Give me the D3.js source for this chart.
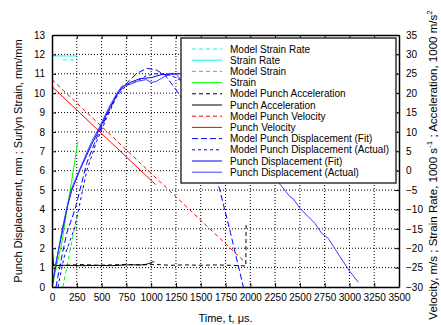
<!DOCTYPE html>
<html>
<head>
<meta charset="utf-8">
<script src="https://cdn.jsdelivr.net/npm/d3@7"></script>
<style>
  body { margin: 0; background: #fff; }
  text { font-family: "Liberation Sans", Arial, sans-serif; }
</style>
</head>
<body>
<svg id="chart" width="441" height="325"></svg>
<script>
// ticks
const xTicks = d3.range(0, 3501, 250);
const leftTicks = d3.range(0, 14, 1);
const rightTicks = d3.range(-30, 36, 5);

// right axis series: [time us, value]
const modelStrainRate = [[110, 28.6], [250, 28.6]];
const strainRate = [[0, 29.6], [250, 29.6]];
const modelAccel = [[0, -24.3], [150, -24.4], [300, -24.2], [450, -24.4], [600, -24.3], [750, -24.2], [900, -24.3],
  [1050, -24.2], [1200, -24.4], [1350, -24.3], [1500, -24.4], [1650, -24.3], [1800, -24.4], [1900, -24.5],
  [1955, -24.6], [1958, -13.2]];
const accel = [[0, -18.5], [15, -24.5], [150, -24.4], [300, -24.5], [450, -24.4], [600, -24.5], [750, -24.3],
  [900, -24.3], [960, -24.1], [1000, -23.7], [1030, -23.4]];
const modelVelocity = [[0, 23.5], [1960, -23.9]];
const velocity = [[0, 21.7], [1045, -3.6]];

// left axis series: [time us, value]
const modelStrain = [[110, 0], [252, 3.7]];
const strain = [[5, 0], [30, 0.7], [98, 2.25], [148, 3.9], [232, 6.55], [258, 7.5]];
const modelDispFit = [[40, 0], [100, 1.6], [150, 2.8], [232, 4.0], [350, 6.38], [450, 7.7], [550, 8.8], [650, 9.9],
  [750, 10.5], [850, 11.0], [955, 11.28], [1050, 11.2], [1140, 10.94], [1290, 9.9], [1500, 7.6], [1690, 5.06],
  [1800, 2.8], [1930, 0]];
const modelDispActual = [[60, 0], [120, 1.5], [232, 3.11], [350, 6.0], [450, 7.5], [550, 8.7], [650, 9.8],
  [750, 10.4], [850, 10.6], [950, 10.9], [1050, 11.0], [1150, 11.0], [1250, 10.8], [1350, 10.5]];
const dispFit = [[0, 0], [50, 1.5], [100, 2.75], [150, 4.05], [200, 5.0], [282, 6.04], [400, 7.35], [484, 8.2],
  [568, 9.1], [650, 9.85], [703, 10.3], [787, 10.55], [888, 10.75], [1000, 10.8], [1100, 10.95], [1200, 11.0],
  [1350, 11.0]];
const dispActual = [[0, 0], [40, 1.2], [100, 2.9], [150, 4.1], [200, 5.1], [282, 6.1], [400, 7.5], [484, 8.3],
  [568, 9.2], [650, 9.95], [703, 10.35], [787, 10.45], [850, 10.6], [950, 10.7], [1000, 10.55], [1050, 10.6],
  [1150, 10.9], [1250, 11.0], [1400, 10.0], [1800, 7.5], [2300, 5.3], [2400, 4.66], [2434, 4.54], [2501, 4.06],
  [2569, 3.71], [2653, 3.28], [2720, 2.77], [2787, 2.51], [2872, 1.82], [2939, 1.3], [3006, 0.79], [3090, 0.24]];

const series = [
  { name: 'Model Strain Rate', data: modelStrainRate, axis: 'R', color: '#00ffff', dash: '4,3' },
  { name: 'Strain Rate', data: strainRate, axis: 'R', color: '#00ffff', dash: null },
  { name: 'Model Strain', data: modelStrain, axis: 'L', color: '#00ff00', dash: '4,3' },
  { name: 'Strain', data: strain, axis: 'L', color: '#00ff00', dash: null },
  { name: 'Model Punch Acceleration', data: modelAccel, axis: 'R', color: '#000000', dash: '4,3' },
  { name: 'Punch Acceleration', data: accel, axis: 'R', color: '#000000', dash: null },
  { name: 'Model Punch Velocity', data: modelVelocity, axis: 'R', color: '#ff0000', dash: '4,3' },
  { name: 'Punch Velocity', data: velocity, axis: 'R', color: '#ff0000', dash: null },
  { name: 'Model Punch Displacement (Fit)', data: modelDispFit, axis: 'L', color: '#0000ff', dash: '6,3' },
  { name: 'Model Punch Displacement (Actual)', data: modelDispActual, axis: 'L', color: '#0000ff', dash: '3,3' },
  { name: 'Punch Displacement (Fit)', data: dispFit, axis: 'L', color: '#0000ff', dash: null },
  { name: 'Punch Displacement (Actual)', data: dispActual, axis: 'L', color: '#3a3aff', dash: null }
];

const svg = d3.select('#chart');
const L = 52, R = 399, T = 35, B = 287;

const x = d3.scaleLinear().domain([0, 3500]).range([L, R]);
const yL = d3.scaleLinear().domain([0, 13]).range([B, T]);
const yR = d3.scaleLinear().domain([-30, 35]).range([B, T]);

svg.append('defs').append('clipPath').attr('id', 'plot')
  .append('rect').attr('x', L).attr('y', T).attr('width', R - L).attr('height', B - T);

// grid
const grid = svg.append('g');
xTicks.slice(1, -1).forEach(t => {
  grid.append('line').attr('x1', x(t)).attr('x2', x(t)).attr('y1', T).attr('y2', B)
    .attr('stroke', '#000').attr('stroke-dasharray', '1,2');
});
leftTicks.slice(1, -1).forEach(t => {
  grid.append('line').attr('x1', L).attr('x2', R).attr('y1', yL(t)).attr('y2', yL(t))
    .attr('stroke', '#000').attr('stroke-dasharray', '1,2');
});

// data lines
const plot = svg.append('g').attr('clip-path', 'url(#plot)');
series.forEach(s => {
  const yy = s.axis === 'L' ? yL : yR;
  plot.append('path').datum(s.data)
    .attr('fill', 'none')
    .attr('stroke', s.color)
    .attr('stroke-width', 1)
    .attr('stroke-dasharray', s.dash)
    .attr('d', d3.line().x(d => x(d[0])).y(d => yy(d[1])));
});

// axes
svg.append('g').attr('transform', `translate(0,${B})`)
  .call(d3.axisBottom(x).tickValues(xTicks).tickFormat(d3.format('d'))
    .tickSizeInner(-4).tickSizeOuter(0).tickPadding(7));
svg.append('g').attr('transform', `translate(0,${T})`)
  .call(d3.axisTop(x).tickValues(xTicks).tickSizeInner(-4).tickSizeOuter(0).tickFormat(''));
svg.append('g').attr('transform', `translate(${L},0)`)
  .call(d3.axisLeft(yL).tickValues(leftTicks).tickSizeInner(-4).tickSizeOuter(0).tickPadding(7));
svg.append('g').attr('transform', `translate(${R},0)`)
  .call(d3.axisRight(yR).tickValues(rightTicks).tickSizeInner(-4).tickSizeOuter(0).tickPadding(7));

svg.selectAll('.domain').attr('stroke', '#000').attr('stroke-width', 1.5);
svg.selectAll('.tick line').attr('stroke', '#000');
svg.selectAll('.tick text').attr('font-size', 10).attr('fill', '#000')
  .attr('font-family', '"Liberation Sans", Arial, sans-serif');

// legend
const lg = svg.append('g');
lg.append('rect').attr('x', 181).attr('y', 38).attr('width', 215).attr('height', 145)
  .attr('fill', '#fff').attr('stroke', '#333').attr('stroke-width', 1.5);
series.forEach((s, i) => {
  const yy = 49 + i * 11.2;
  lg.append('line').attr('x1', 192).attr('x2', 222).attr('y1', yy).attr('y2', yy)
    .attr('stroke', s.color).attr('stroke-dasharray', s.dash);
  lg.append('text').attr('x', 230).attr('y', yy).attr('dy', '0.35em')
    .attr('font-size', 10).text(s.name);
});

// axis titles
svg.append('text').attr('x', (L + R) / 2).attr('y', 322).attr('text-anchor', 'middle')
  .attr('font-size', 11).text('Time, t, μs.');
svg.append('text').attr('transform', `translate(22,${(T + B) / 2}) rotate(-90)`)
  .attr('text-anchor', 'middle').attr('font-size', 11)
  .text('Punch Displacement, mm ; Surlyn Strain, mm/mm');
const rt = svg.append('text').attr('transform', `translate(437,165) rotate(-90)`)
  .attr('text-anchor', 'middle').attr('font-size', 11.5);
rt.append('tspan').text('Velocity, m/s ; Strain Rate, 1000 s');
rt.append('tspan').attr('dy', -5).attr('font-size', 8).text('-1');
rt.append('tspan').attr('dy', 5).text(' ; Acceleration, 1000 m/s');
rt.append('tspan').attr('dy', -5).attr('font-size', 8).text('2');
</script>
</body>
</html>
